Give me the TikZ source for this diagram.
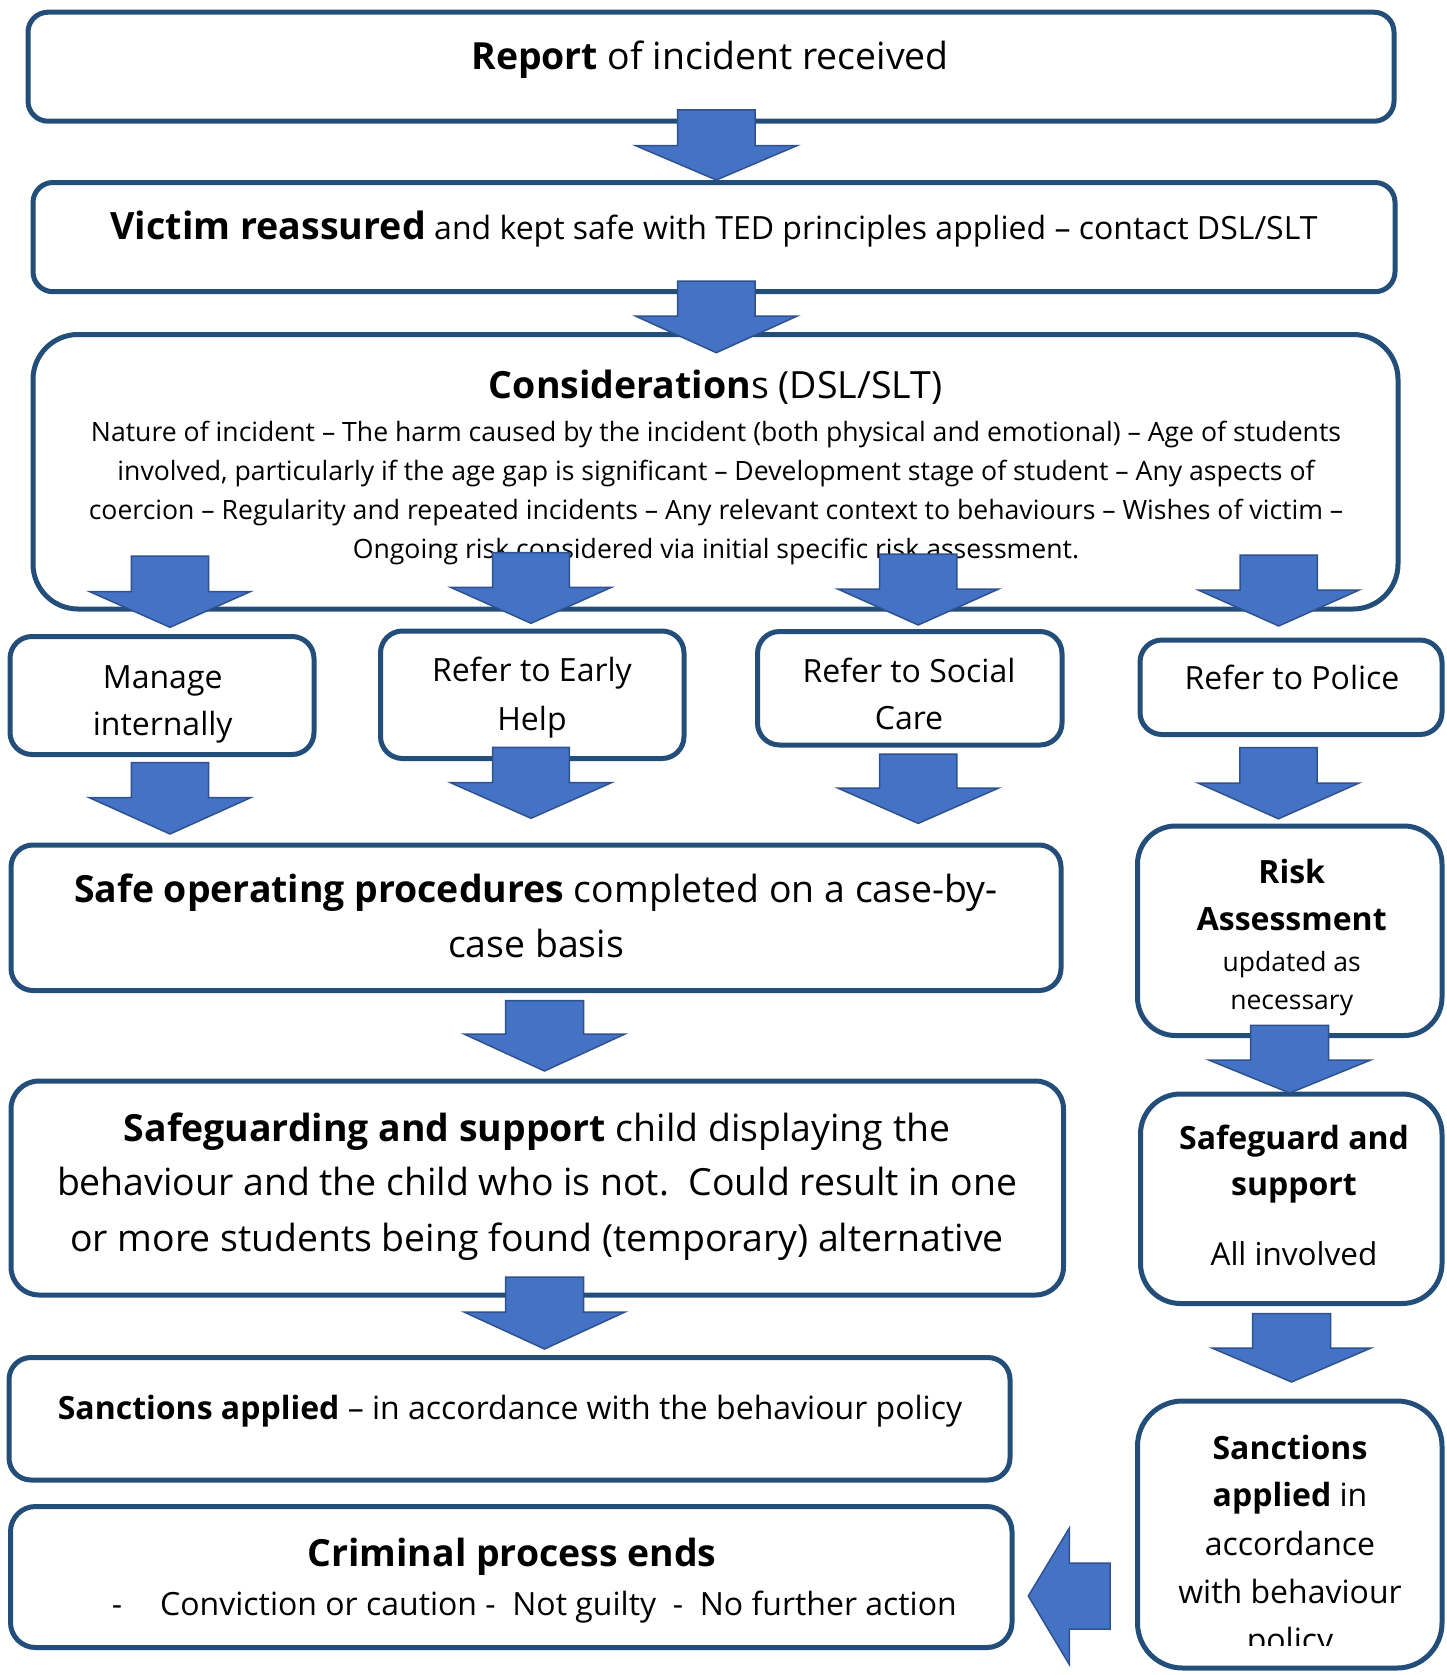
\documentclass[tikz,border=0pt]{standalone}
\usepackage{fontspec}
\setmainfont{Open Sans}
\definecolor{bord}{RGB}{35,78,122}
\definecolor{afill}{RGB}{68,114,196}
\definecolor{aline}{RGB}{47,82,143}
\newcommand\fsz[2]{\fontsize{#1}{#2}\selectfont}
\tikzset{
  box/.style={draw=bord, line width=5pt, fill=white, inner sep=0pt, rectangle},
  txt/.style={inner sep=0pt, text=black, anchor=base},
  blk/.style={fill=afill, draw=aline, line width=1.5pt, line join=miter},
}
% name, x1, y1, x2, y2, radius
\newcommand\flowbox[6]{\node[box, rounded corners=#6, minimum width={#4-#2}, minimum height={#5-#3}] (#1) at ({(#2+#4)/2},{(#3+#5)/2}) {};}
% cx, shaft half, head half, top, base, tip
\newcommand\dnarr[6]{\draw[blk] ({#1-#2},#4) -- ({#1+#2},#4) -- ({#1+#2},#5) -- ({#1+#3},#5) -- (#1,#6) -- ({#1-#3},#5) -- ({#1-#2},#5) -- cycle;}
\begin{document}
\begin{tikzpicture}[x=1pt,y=-1pt]
\useasboundingbox (0,0) rectangle (1447,1675);
% boxes
\flowbox{report}{28}{12.2}{1394}{121.2}{20}
\flowbox{victim}{33}{182.5}{1395}{291.7}{20}
\flowbox{cons}{33}{334.5}{1398}{609}{45}
\flowbox{manage}{10}{636.5}{314}{754.5}{22}
\flowbox{early}{380.5}{631}{684}{758.5}{22}
\flowbox{social}{757.5}{631.5}{1062}{745}{22}
\flowbox{police}{1140}{640}{1442}{734.5}{22}
\flowbox{safeop}{11}{845}{1061}{990.5}{22}
\flowbox{risk}{1137.5}{826}{1442}{1035.5}{38}
\flowbox{safeguarding}{11}{1081}{1063.5}{1295}{28}
\flowbox{safeguard}{1140.5}{1094}{1442}{1303.5}{40}
\flowbox{sanctl}{9}{1357.5}{1010}{1480}{22}
\flowbox{criminal}{10.5}{1506.5}{1012}{1647.5}{25}
\flowbox{sanctr}{1137.5}{1401}{1442}{1668}{45}
% texts
\node[txt, font=\fsz{37.4}{44}] (t-report) at (710,70) {\textbf{Report} of incident received};
\node[txt, font=\fsz{32}{38}] (t-victim) at (714,239.5) {{\fsz{37.6}{44}\bfseries Victim reassured} and kept safe with TED principles applied – contact DSL/SLT};
\node[txt, font=\fsz{37.5}{44}] (t-cons) at (715.6,398.5) {\textbf{Consideration}s (DSL/SLT)};
\node[txt, font=\fsz{26.6}{32}] (t-cons1) at (716,441.5) {Nature of incident – The harm caused by the incident (both physical and emotional) – Age of students};
\node[txt, font=\fsz{26.6}{32}] (t-cons2) at (716,480.5) {involved, particularly if the age gap is significant – Development stage of student – Any aspects of};
\node[txt, font=\fsz{26.6}{32}] (t-cons3) at (716,519.5) {coercion – Regularity and repeated incidents – Any relevant context to behaviours – Wishes of victim –};
\node[txt, font=\fsz{26.6}{32}] (t-cons4) at (716,558.5) {Ongoing risk considered via initial specific risk assessment.};
\node[txt, font=\fsz{32}{40}] (t-manage1) at (162.7,688.3) {Manage};
\node[txt, font=\fsz{32}{40}] (t-manage2) at (162.7,735) {internally};
\node[txt, font=\fsz{32}{40}] (t-early1) at (532,681.7) {Refer to Early};
\node[txt, font=\fsz{32}{40}] (t-early2) at (532,730) {Help};
\node[txt, font=\fsz{32}{40}] (t-social1) at (909,682) {Refer to Social};
\node[txt, font=\fsz{32}{40}] (t-social2) at (909,729.5) {Care};
\node[txt, font=\fsz{32}{40}] (t-police) at (1292,689.5) {Refer to Police};
\node[txt, font=\fsz{37.4}{44}] (t-safeop1) at (536,902.6) {\textbf{Safe operating procedures} completed on a case-by-};
\node[txt, font=\fsz{37.4}{44}] (t-safeop2) at (536,957) {case basis};
\node[txt, font=\fsz{32}{40}] (t-risk1) at (1291.7,883) {\textbf{Risk}};
\node[txt, font=\fsz{32}{40}] (t-risk2) at (1291.7,930) {\textbf{Assessment}};
\node[txt, font=\fsz{26.5}{32}] (t-risk3) at (1291.7,971) {updated as};
\node[txt, font=\fsz{26.5}{32}] (t-risk4) at (1291.7,1009) {necessary};
\node[txt, font=\fsz{37.4}{44}] (t-sg1) at (537,1141) {\textbf{Safeguarding and support} child displaying the};
\node[txt, font=\fsz{37.4}{44}] (t-sg2) at (537,1195.5) {behaviour and the child who is not.\ \ Could result in one};
\node[txt, font=\fsz{37.4}{44}] (t-sg3) at (537,1251) {or more students being found (temporary) alternative};
\node[txt, font=\fsz{32}{40}] (t-sgr1) at (1294,1149) {\textbf{Safeguard and}};
\node[txt, font=\fsz{32}{40}] (t-sgr2) at (1294,1195) {\textbf{support}};
\node[txt, font=\fsz{31.5}{40}] (t-sgr3) at (1294,1265) {All involved};
\node[txt, font=\fsz{32}{38}] (t-sanctl) at (510,1419) {\textbf{Sanctions applied} – in accordance with the behaviour policy};
\node[txt, font=\fsz{37.4}{46}] (t-crim) at (512,1566.7) {\textbf{Criminal process ends}};
\node[txt, font=\fsz{32}{38}] (t-crimdash) at (117,1615) {-};
\node[txt, font=\fsz{32}{38}, anchor=base west] (t-crimsub) at (160,1615) {Conviction or caution -\ \ Not guilty\ \ -\ \ No further action};
\begin{scope}
\clip (1140,1390) rectangle (1440,1645);
\node[txt, font=\fsz{32}{40}] (t-sr1) at (1290,1459.4) {\textbf{Sanctions}};
\node[txt, font=\fsz{32}{40}] (t-sr2) at (1290,1506.7) {\textbf{applied} in};
\node[txt, font=\fsz{32}{40}] (t-sr3) at (1290,1555) {accordance};
\node[txt, font=\fsz{32}{40}] (t-sr4) at (1290,1603) {with behaviour};
\node[txt, font=\fsz{32}{40}] (t-sr5) at (1290,1651) {policy};
\end{scope}
% block arrows
\dnarr{716.3}{38.8}{81}{110}{145.5}{180}
\dnarr{716.3}{38.8}{81}{281}{316}{352.7}
\dnarr{170}{38.7}{80.6}{556}{591.5}{627.3}
\dnarr{531}{38.3}{80.4}{552.7}{587.3}{623.3}
\dnarr{918.2}{38.6}{80.5}{554}{589}{625}
\dnarr{1278.7}{38.7}{80.5}{555}{590}{626}
\dnarr{170}{38.7}{80.6}{762.7}{797.7}{834}
\dnarr{531}{38.3}{80.4}{747.3}{782.7}{818.3}
\dnarr{918.2}{38.6}{80.5}{754}{788}{823.4}
\dnarr{1278.5}{38.7}{80.5}{747.6}{783}{818.8}
\dnarr{544.5}{39}{80.5}{1000.7}{1034}{1071}
\dnarr{544.5}{39}{80.5}{1277}{1312}{1349}
\dnarr{1289.7}{39}{81}{1025.4}{1060}{1093}
\dnarr{1291.5}{39}{79.5}{1313.6}{1348}{1382}
\draw[blk] (1110,1563) -- (1110,1629) -- (1069.3,1629) -- (1069.3,1664.5) -- (1028.3,1596) -- (1069.3,1528) -- (1069.3,1563) -- cycle;
\end{tikzpicture}
\end{document}
